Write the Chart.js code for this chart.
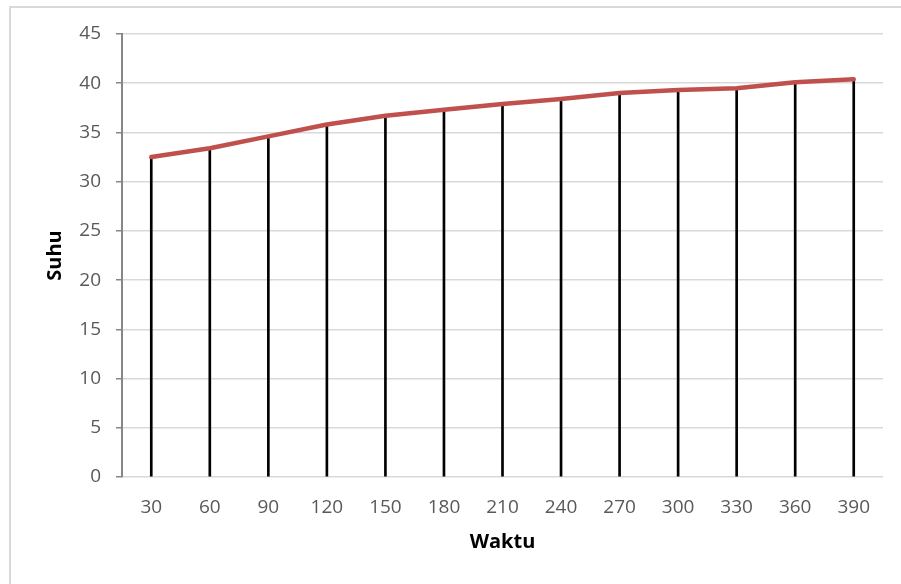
<!DOCTYPE html>
<html>
<head>
<meta charset="utf-8">
<title>Suhu terhadap Waktu</title>
<script src="https://cdn.jsdelivr.net/npm/chart.js@4.4.1/dist/chart.umd.min.js"></script>
<style>
  html, body { margin: 0; padding: 0; background: #ffffff; }
  #wrap { position: relative; width: 901px; height: 584px; overflow: hidden; }
  #frame {
    position: absolute; left: 9px; top: 6px; width: 1200px; height: 1200px;
    border-left: 2px solid #d9d9d9; border-top: 2px solid #d9d9d9;
    box-sizing: border-box;
  }
  canvas { position: absolute; left: 0; top: 0; }
</style>
</head>
<body>
<div id="wrap">
  <div id="frame"></div>
  <canvas id="chart" width="901" height="584"></canvas>
</div>
<script>
// Waktu (x) and Suhu (y) readings
const waktu = ['30', '60', '90', '120', '150', '180', '210', '240', '270', '300', '330', '360', '390'];
const suhu = [32.5, 33.4, 34.6, 35.8, 36.7, 37.3, 37.9, 38.4, 39.0, 39.3, 39.5, 40.1, 40.4];
const yTicks = [0, 5, 10, 15, 20, 25, 30, 35, 40, 45];

const tickFont = { family: '"Open Sans", "Liberation Sans", sans-serif', size: 19 };
const titleFont = { family: '"Open Sans", "Liberation Sans", sans-serif', size: 20, weight: 'bold' };

new Chart(document.getElementById('chart'), {
  data: {
    labels: waktu,
    datasets: [
      {
        // drop lines from each reading to the axis
        type: 'bar',
        data: suhu,
        backgroundColor: '#000000',
        barThickness: 2,
        order: 2
      },
      {
        type: 'line',
        data: suhu,
        borderColor: '#C0504D',
        borderWidth: 4.5,
        borderCapStyle: 'round',
        borderJoinStyle: 'round',
        pointRadius: 0,
        tension: 0,
        fill: false,
        order: 1
      }
    ]
  },
  options: {
    responsive: false,
    animation: false,
    events: [],
    layout: { padding: { left: 0, top: 34, right: 18, bottom: 0 } },
    plugins: { legend: { display: false }, tooltip: { enabled: false } },
    scales: {
      x: {
        offset: true,
        grid: { display: false, drawTicks: false },
        border: { display: false },
        ticks: { color: '#595959', font: tickFont, padding: 19, maxRotation: 0 },
        title: { display: true, text: 'Waktu', color: '#000000', font: titleFont, padding: { top: 0, bottom: 30 } },
        afterFit(scale) { scale.height = 107; }
      },
      y: {
        min: 0,
        max: 45,
        afterBuildTicks(scale) { scale.ticks = yTicks.map(v => ({ value: v })); },
        grid: { color: '#d9d9d9', lineWidth: 1.5, tickColor: '#868686', tickLength: 6, tickWidth: 1.5 },
        border: { display: true, color: '#868686', width: 2 },
        ticks: { color: '#595959', font: tickFont, padding: 15 },
        title: { display: true, text: 'Suhu', color: '#000000', font: titleFont, padding: { top: 43, bottom: 0 } },
        afterFit(scale) { scale.width = 122; }
      }
    }
  }
});
</script>
</body>
</html>
